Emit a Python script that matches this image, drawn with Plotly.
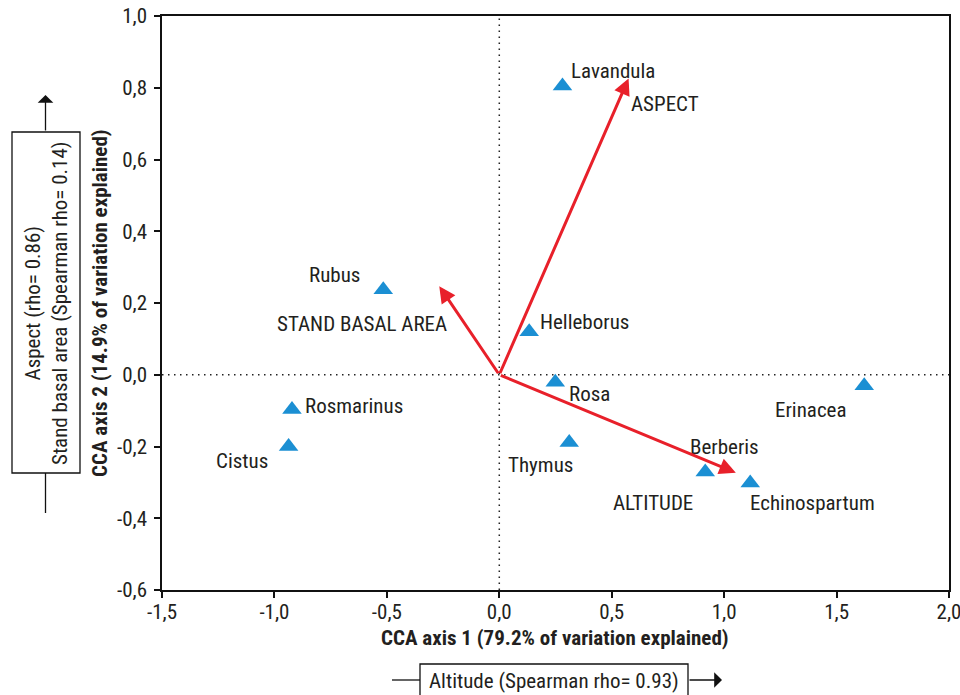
import plotly.graph_objects as go

# --- data ---------------------------------------------------------------
species = ["Lavandula", "Helleborus", "Rosa", "Thymus", "Rubus",
           "Rosmarinus", "Cistus", "Berberis", "Echinospartum", "Erinacea"]
axis1 = [0.281, 0.133, 0.249, 0.311, -0.516, -0.922, -0.937, 0.916, 1.116, 1.623]
axis2 = [0.805, 0.120, -0.021, -0.189, 0.237, -0.097, -0.200, -0.271, -0.302, -0.031]

env_vars = ["ASPECT", "STAND BASAL AREA", "ALTITUDE"]
env_axis1 = [0.575, -0.267, 1.052]
env_axis2 = [0.826, 0.247, -0.273]

x_tickvals = [-1.5, -1.0, -0.5, 0.0, 0.5, 1.0, 1.5, 2.0]
x_ticktext = ["-1,5", "-1,0", "-0,5", "0,0", "0,5", "1,0", "1,5", "2,0"]
y_tickvals = [-0.6, -0.4, -0.2, 0.0, 0.2, 0.4, 0.6, 0.8, 1.0]
y_ticktext = ["-0,6", "-0,4", "-0,2", "0,0", "0,2", "0,4", "0,6", "0,8", "1,0"]

x_title = "CCA axis 1 (79.2% of variation explained)"
y_title = "CCA axis 2 (14.9% of variation explained)"
left_box_text = "Aspect (rho= 0.86)<br>Stand basal area (Spearman rho= 0.14)"
bottom_box_text = "Altitude (Spearman rho= 0.93)"

# --- style --------------------------------------------------------------
FONT = "Roboto Condensed, Liberation Sans Narrow, sans-serif"
FS = 21
TXT = "#231f20"
RED = "#e8202a"
BLUE = "#1b8fd3"

W, H = 960, 695
OFF = 0  # page body margin removed via post_script
L, T = 162 - OFF, 16 - OFF
R = W - (949 - OFF)
B = H - (590 - OFF)
PW, PH = W - L - R, H - T - B


def px(xp):
    return (xp - OFF - L) / PW


def py(yp):
    return (H - B - (yp - OFF)) / PH


# label offsets (pixels) relative to each point: (dx, dy-up)
label_offsets = {
    "Lavandula": (51, 15), "Helleborus": (55, 10), "Rosa": (34, -12),
    "Thymus": (-29, -22), "Rubus": (-49, 15), "Rosmarinus": (62, 4),
    "Cistus": (-47, -14), "Berberis": (19, 25), "Echinospartum": (62, -20),
    "Erinacea": (-53, -24),
}
env_offsets = {"ASPECT": (36, -26), "STAND BASAL AREA": (-77, -38), "ALTITUDE": (-83, -30)}

fig = go.Figure()

fig.add_trace(go.Scatter(
    x=axis1, y=axis2, mode="markers",
    marker=dict(symbol="triangle-up", size=17, color=BLUE, line=dict(width=0)),
    hoverinfo="text", text=species, showlegend=False, cliponaxis=False,
))

CEN = dict(xanchor="center", yanchor="middle")
annotations = []
for name, xv, yv in zip(species, axis1, axis2):
    dx, dy = label_offsets[name]
    annotations.append(dict(x=xv, y=yv, xref="x", yref="y", text=name, showarrow=False,
                            xshift=dx, yshift=dy, font=dict(family=FONT, size=FS, color=TXT), **CEN))

for name, xv, yv in zip(env_vars, env_axis1, env_axis2):
    annotations.append(dict(x=xv, y=yv, xref="x", yref="y", ax=0, ay=0, axref="x", ayref="y",
                            text="", showarrow=True, arrowhead=2, arrowsize=1.1,
                            arrowwidth=3, arrowcolor=RED, standoff=0))
    dx, dy = env_offsets[name]
    annotations.append(dict(x=xv, y=yv, xref="x", yref="y", text=name, showarrow=False,
                            xshift=dx, yshift=dy, font=dict(family=FONT, size=FS, color=TXT), **CEN))

# axis titles
annotations.append(dict(x=px(555), y=py(638), xref="paper", yref="paper",
                        text="<b>" + x_title + "</b>", showarrow=False,
                        font=dict(family=FONT, size=FS, color=TXT), **CEN))
annotations.append(dict(x=px(100), y=py(303), xref="paper", yref="paper",
                        text="<b>" + y_title + "</b>", showarrow=False, textangle=-90,
                        font=dict(family=FONT, size=FS, color=TXT), **CEN))

# left side box text & arrow
annotations.append(dict(x=px(46), y=py(303), xref="paper", yref="paper", text=left_box_text,
                        textangle=-90, showarrow=False, align="center",
                        font=dict(family=FONT, size=FS, color=TXT), **CEN))
annotations.append(dict(x=px(45.5), y=py(95), xref="paper", yref="paper", text="",
                        showarrow=True, ax=0, ay=37, arrowhead=1, arrowsize=2,
                        arrowwidth=1.3, arrowcolor="#111111", standoff=0))
# bottom box text & arrow
annotations.append(dict(x=px(554), y=py(681), xref="paper", yref="paper", text=bottom_box_text,
                        showarrow=False, font=dict(family=FONT, size=FS, color=TXT), **CEN))
annotations.append(dict(x=px(722), y=py(680), xref="paper", yref="paper", text="",
                        showarrow=True, ax=-34, ay=0, arrowhead=1, arrowsize=2,
                        arrowwidth=1.3, arrowcolor="#111111", standoff=0))

shapes = [
    dict(type="line", xref="x", yref="paper", x0=0, x1=0, y0=0, y1=1,
         line=dict(color="#222222", width=1.5, dash="1.5px,4.5px"), layer="below"),
    dict(type="line", xref="paper", yref="y", x0=0, x1=1, y0=0, y1=0,
         line=dict(color="#222222", width=1.5, dash="1.5px,4.5px"), layer="below"),
    # left box
    dict(type="rect", xref="paper", yref="paper", x0=px(12), x1=px(80), y0=py(473), y1=py(132),
         line=dict(color="#111111", width=1.3)),
    dict(type="line", xref="paper", yref="paper", x0=px(45.5), x1=px(45.5), y0=py(473), y1=py(513),
         line=dict(color="#111111", width=1.3)),
    # bottom box
    dict(type="rect", xref="paper", yref="paper", x0=px(420), x1=px(688), y0=py(664), y1=py(710),
         line=dict(color="#111111", width=1.3)),
    dict(type="line", xref="paper", yref="paper", x0=px(392), x1=px(420), y0=py(680), y1=py(680),
         line=dict(color="#111111", width=1.3)),
]

axis_common = dict(showgrid=False, zeroline=False, showline=True, linecolor="#111111",
                   linewidth=1.5, mirror=True, ticks="outside", ticklen=6,
                   tickcolor="#111111", tickwidth=1.5, automargin=False,
                   ticklabeloverflow="allow",
                   tickfont=dict(family=FONT, size=FS, color=TXT))

fig.update_layout(
    width=W, height=H,
    margin=dict(l=L, r=R, t=T, b=B, autoexpand=False),
    paper_bgcolor="white", plot_bgcolor="white",
    xaxis=dict(range=[-1.5, 2.0], tickvals=x_tickvals, ticktext=x_ticktext,
               ticklabelstandoff=-4, **axis_common),
    yaxis=dict(range=[-0.6, 1.0], tickvals=y_tickvals, ticktext=y_ticktext,
               ticklabelstandoff=3, **axis_common),
    annotations=annotations, shapes=shapes, showlegend=False,
)

fig.write_html("out.html", config={"displayModeBar": False},
               post_script="document.body.style.margin='0px';")
